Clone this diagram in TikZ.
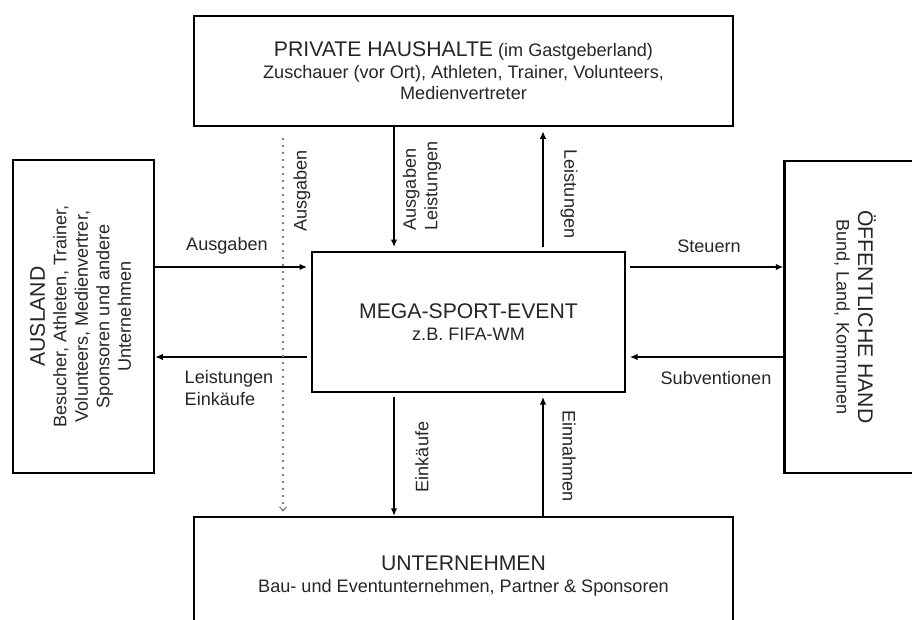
\documentclass[tikz,border=0pt]{standalone}
\usepackage{fontspec}
\setmainfont{Liberation Sans}
\usetikzlibrary{arrows.meta,positioning,calc}
\newcommand{\titlesize}{\fontsize{21.2}{24}\selectfont}
\newcommand{\labsize}{\fontsize{18.1}{21.5}\selectfont}

\begin{document}
\begin{tikzpicture}[x=1pt,y=-1pt,font=\labsize,>={Latex[length=7.5pt,width=6.5pt]},
  box/.style={draw,line width=2.5pt,align=center,inner sep=0pt,text=black!85},
  flow/.style={->,line width=1.3pt},
  lbl/.style={align=left,inner sep=0pt,text=black!85},
  dotflow/.style={draw=black!50,line width=1.6pt,dash pattern=on 1.6pt off 5.4pt,
    -{Straight Barb[length=4pt,width=7pt,line width=1.2pt]}}]
  \useasboundingbox (0,0) rectangle (912,619);
  \clip (0,0) rectangle (912,619);
  % boxes
  \node[box,minimum width=539pt,minimum height=110pt] (hh) at (463.5,71)
    {{\titlesize PRIVATE HAUSHALTE} (im Gastgeberland)\\
     Zuschauer (vor Ort), Athleten, Trainer, Volunteers,\\
     Medienvertreter};
  \node[box,minimum width=313pt,minimum height=140pt,outer sep=5pt] (ev) at (468.5,322)
    {{\titlesize MEGA-SPORT-EVENT}\\ z.B. FIFA-WM};
  \node[box,minimum width=539pt,minimum height=118pt] (un) at (463.5,576)
    {{\titlesize UNTERNEHMEN}\\ Bau- und Eventunternehmen, Partner \& Sponsoren};
  \node[box,minimum width=141pt,minimum height=313pt] (au) at (83.5,316.5)
    {\rotatebox{90}{\begin{tabular}{@{}c@{}}
      {\titlesize AUSLAND}\\
      Besucher, Athleten, Trainer,\\
      Volunteers, Medienvertrer,\\
      Sponsoren und andere\\
      Unternehmen
    \end{tabular}}};
  \node[box,minimum width=137pt,minimum height=312pt] (oh) at (853,317)
    {\rotatebox{-90}{\begin{tabular}{@{}c@{}}
      {\titlesize ÖFFENTLICHE HAND}\\
      Bund, Land, Kommunen
    \end{tabular}}};
  % where the connectors run
  \coordinate (xd) at (283,0);
  \coordinate (x1) at (394,0);
  \coordinate (x2) at (543,0);
  \coordinate (y1) at (0,267);
  \coordinate (y2) at (0,357);
  % flows
  \draw[flow] (au.east |- y1) -- (ev.west |- y1);
  \draw[flow] (ev.west |- y2) -- (au.east |- y2);
  \draw[flow] (ev.east |- y1) -- (oh.west |- y1);
  \draw[flow] (oh.west |- y2) -- (ev.east |- y2);
  \draw[flow] (hh.south -| x1) -- (ev.north -| x1);
  \draw[flow,shorten >=4pt] (ev.north -| x2) -- (hh.south -| x2);
  \draw[flow] (ev.south -| x1) -- (un.north -| x1);
  \draw[flow] (un.north -| x2) -- (ev.south -| x2);
  \draw[dotflow,shorten <=11pt,shorten >=4pt] (hh.south -| xd) -- (un.north -| xd);
  % labels
  \node[lbl] (lausg) at (227,246) {Ausgaben};
  \node[lbl] (lleist) at (229,388) {Leistungen\\Einkäufe};
  \node[lbl,rotate=90] (ldot) at (302,191) {Ausgaben};
  \node[lbl,rotate=90] (lhhin) at (422,186) {Ausgaben\\Leistungen};
  \node[lbl,rotate=-90] (lhhout) at (569,194) {Leistungen};
  \node[lbl] (lsteu) at (709,246) {Steuern};
  \node[lbl] (lsubv) at (716,378) {Subventionen};
  \node[lbl,rotate=90] (lein) at (422,457) {Einkäufe};
  \node[lbl,rotate=-90] (leinn) at (569,456) {Einnahmen};
\end{tikzpicture}
\end{document}
